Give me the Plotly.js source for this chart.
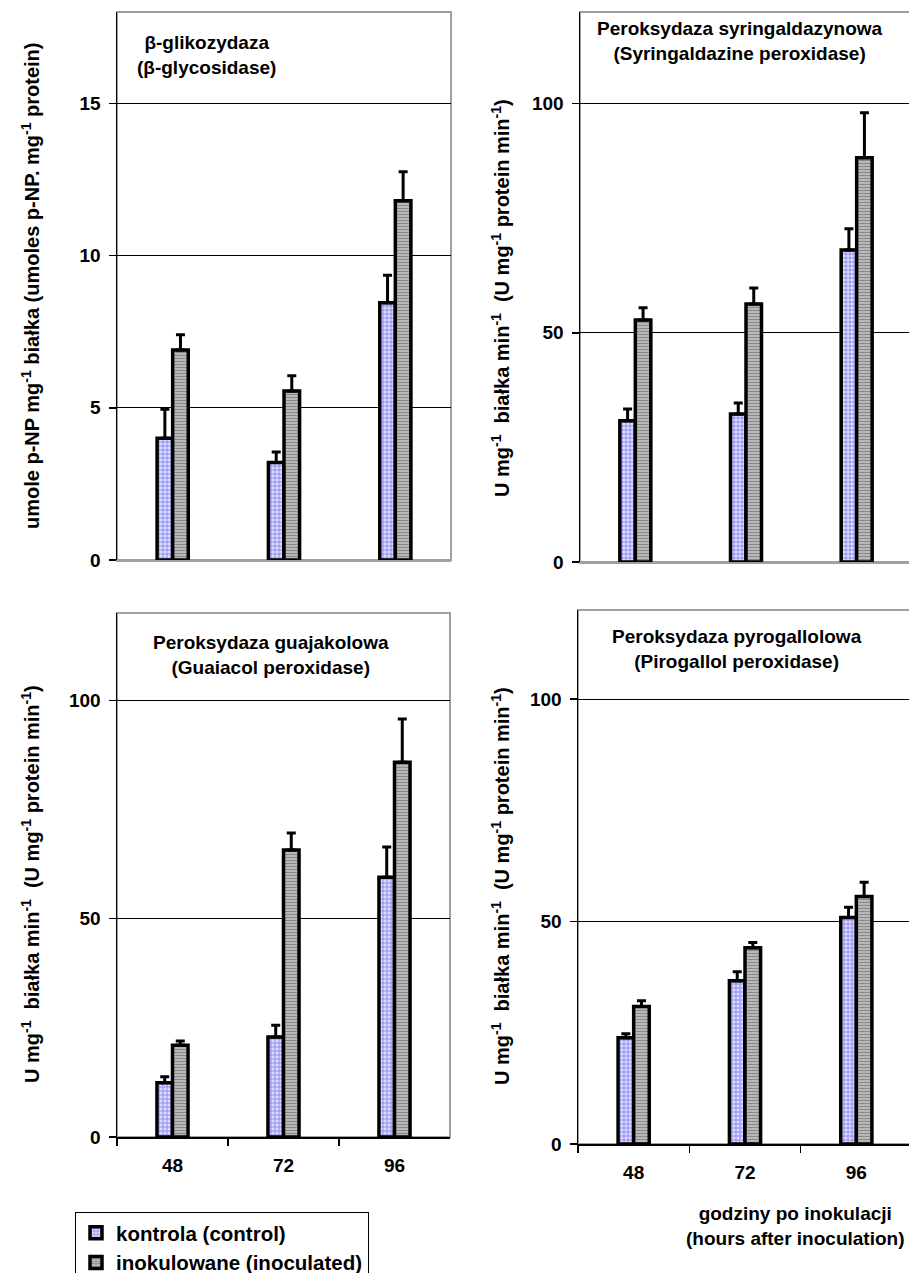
<!DOCTYPE html>
<html>
<head>
<meta charset="utf-8">
<script src="https://cdn.plot.ly/plotly-3.0.1.min.js"></script>
<style>
html,body{margin:0;padding:0;overflow:hidden;background:#fff;}
#chart{width:912px;height:1273px;}
</style>
</head>
<body>
<div id="chart"></div>
<script>
// ---- data ----
const hours = ['48', '72', '96'];
const seriesNames = ['kontrola (control)', 'inokulowane (inoculated)'];
const glyTicks = [0, 5, 10, 15];
const enzTicks = [0, 50, 100];

// β-glikozydaza (β-glycosidase)
const glyControl = [4.0, 3.2, 8.45];
const glyControlErr = [0.95, 0.35, 0.9];
const glyInoc = [6.9, 5.55, 11.8];
const glyInocErr = [0.5, 0.5, 0.95];

// Peroksydaza syringaldazynowa (Syringaldazine peroxidase)
const syrControl = [30.8, 32.3, 68.1];
const syrControlErr = [2.6, 2.4, 4.6];
const syrInoc = [52.8, 56.3, 88.2];
const syrInocErr = [2.7, 3.5, 9.8];

// Peroksydaza guajakolowa (Guaiacol peroxidase)
const guaControl = [12.4, 22.9, 59.5];
const guaControlErr = [1.4, 2.7, 6.9];
const guaInoc = [21.0, 65.7, 85.8];
const guaInocErr = [1.0, 3.9, 9.9];

// Peroksydaza pyrogallolowa (Pirogallol peroxidase)
const pyrControl = [23.9, 36.7, 50.9];
const pyrControlErr = [0.9, 2.0, 2.3];
const pyrInoc = [30.9, 44.1, 55.6];
const pyrInocErr = [1.3, 1.2, 3.2];

const panelTitles = [
  'β-glikozydaza<br>(β-glycosidase)',
  'Peroksydaza syringaldazynowa<br>(Syringaldazine peroxidase)',
  'Peroksydaza guajakolowa<br>(Guaiacol peroxidase)',
  'Peroksydaza pyrogallolowa<br>(Pirogallol peroxidase)'
];
const yTitles = [
  'umole p-NP mg<sup>-1</sup> białka (umoles p-NP. mg<sup>-1</sup> protein)',
  'U mg<sup>-1</sup>  białka min<sup>-1</sup>  (U mg<sup>-1</sup> protein min<sup>-1</sup>)',
  'U mg<sup>-1</sup>  białka min<sup>-1</sup>  (U mg<sup>-1</sup> protein min<sup>-1</sup>)',
  'U mg<sup>-1</sup>  białka min<sup>-1</sup>  (U mg<sup>-1</sup> protein min<sup>-1</sup>)'
];
const xTitle = 'godziny po inokulacji<br>(hours after inoculation)';

// ---- styling ----
const FONT = 'Liberation Sans, Arial, sans-serif';
const W = 912, H = 1273;
const px = v => v / W;
const py = v => 1 - v / H;
const bold = a => a.map(v => '<b>' + v + '</b>');

const controlMarker = {
  color: '#c4c4fa',
  line: {color: '#000', width: 3.5},
  pattern: {shape: '+', fgcolor: '#8282ee', bgcolor: '#dcdcff', size: 4, solidity: 0.4}
};
const inocMarker = {
  color: '#b0b0b0',
  line: {color: '#000', width: 3.5},
  pattern: {shape: '-', fgcolor: '#8a8a8a', bgcolor: '#c2c2c2', size: 3, solidity: 0.45}
};

function errs(arr) {
  return {type: 'data', symmetric: false, array: arr, arrayminus: arr.map(() => 0),
          color: '#000', thickness: 3, width: 4.5};
}

const panels = [
  {c: glyControl, ce: glyControlErr, i: glyInoc, ie: glyInocErr},
  {c: syrControl, ce: syrControlErr, i: syrInoc, ie: syrInocErr},
  {c: guaControl, ce: guaControlErr, i: guaInoc, ie: guaInocErr},
  {c: pyrControl, ce: pyrControlErr, i: pyrInoc, ie: pyrInocErr}
];

const traces = [];
panels.forEach((p, k) => {
  const xa = k === 0 ? 'x' : 'x' + (k + 1);
  const ya = k === 0 ? 'y' : 'y' + (k + 1);
  traces.push({type: 'bar', name: seriesNames[0], x: hours, y: p.c, xaxis: xa, yaxis: ya,
    marker: controlMarker, error_y: errs(p.ce), showlegend: k === 2, legendgroup: 'c'});
  traces.push({type: 'bar', name: seriesNames[1], x: hours, y: p.i, xaxis: xa, yaxis: ya,
    marker: inocMarker, error_y: errs(p.ie), showlegend: k === 2, legendgroup: 'i'});
});

const tickFont = {family: FONT, size: 19, color: '#000', weight: 'bold'};

function xAxis(domain, showLabels, anchor) {
  return {
    domain: domain, type: 'category', range: [-0.5, 2.5], fixedrange: true, anchor: anchor,
    showgrid: false, zeroline: false,
    showline: true, linecolor: showLabels ? '#000' : '#a0a0a0', linewidth: showLabels ? 1.5 : 2,
    showticklabels: showLabels, ticks: showLabels ? 'outside' : '', tickson: 'boundaries',
    tickmode: 'array', tickvals: hours, ticktext: bold(hours),
    ticklen: 7, tickwidth: 1.5, tickcolor: '#000', tickfont: tickFont, ticklabelstandoff: 11
  };
}
function yAxis(domain, max, ticks, anchor) {
  return {
    domain: domain, range: [0, max], fixedrange: true, anchor: anchor,
    tickmode: 'array', tickvals: ticks, ticktext: bold(ticks),
    showgrid: true, gridcolor: '#000', gridwidth: 1, zeroline: false,
    showline: true, linecolor: '#000', linewidth: 1.5,
    ticks: 'outside', ticklen: 7, tickwidth: 1.5, tickcolor: '#000',
    tickfont: tickFont, ticklabelstandoff: 4
  };
}

const dom = {
  x1: [px(117), px(451)], y1: [py(560), py(12)],
  x2: [px(580), 1], y2: [py(562), py(12)],
  x3: [px(117), px(450)], y3: [py(1137), py(613)],
  x4: [px(578), 1], y4: [py(1144), py(610)]
};

const shapes = [['x', 'y'], ['x2', 'y2'], ['x3', 'y3'], ['x4', 'y4']].map(([xr, yr]) => ({
  type: 'rect', xref: xr + ' domain', yref: yr + ' domain', x0: 0, x1: 1, y0: 0, y1: 1,
  line: {color: '#a0a0a0', width: 2}, layer: 'below'
}));

const titleFont = {family: FONT, size: 19, color: '#000', weight: 'bold'};
const yTitleFont = {family: FONT, size: 20, color: '#000', weight: 'bold'};
const annotations = [
  {text: panelTitles[0], x: px(206), y: py(55)},
  {text: panelTitles[1], x: px(740), y: py(41)},
  {text: panelTitles[2], x: px(271), y: py(655)},
  {text: panelTitles[3], x: px(737), y: py(649)},
  {text: yTitles[0], x: px(30), y: py(286), textangle: -90, font: yTitleFont},
  {text: yTitles[1], x: px(500), y: py(298), textangle: -90, font: yTitleFont},
  {text: yTitles[2], x: px(30), y: py(884), textangle: -90, font: yTitleFont},
  {text: yTitles[3], x: px(500), y: py(886), textangle: -90, font: yTitleFont},
  {text: xTitle, x: px(795), y: py(1226)}
].map(a => Object.assign({xref: 'paper', yref: 'paper', showarrow: false, xanchor: 'center',
  yanchor: 'middle', align: 'center', font: titleFont}, a));

const layout = {
  width: W, height: H,
  margin: {l: 0, r: 0, t: 0, b: 0, autoexpand: false},
  paper_bgcolor: '#fff', plot_bgcolor: '#fff',
  barmode: 'group', bargap: 0.72, bargroupgap: 0,
  font: {family: FONT, color: '#000'},
  xaxis: xAxis(dom.x1, false, 'y'), yaxis: yAxis(dom.y1, 18, glyTicks, 'x'),
  xaxis2: xAxis(dom.x2, false, 'y2'), yaxis2: yAxis(dom.y2, 120, enzTicks, 'x2'),
  xaxis3: xAxis(dom.x3, true, 'y3'), yaxis3: yAxis(dom.y3, 120, enzTicks, 'x3'),
  xaxis4: xAxis(dom.x4, true, 'y4'), yaxis4: yAxis(dom.y4, 120, enzTicks, 'x4'),
  shapes: shapes,
  annotations: annotations,
  showlegend: true,
  legend: {
    x: px(75), y: py(1212), xanchor: 'left', yanchor: 'top', orientation: 'v',
    bgcolor: '#fff', bordercolor: '#000', borderwidth: 1,
    font: {family: FONT, size: 20.5, color: '#000', weight: 'bold'},
    traceorder: 'normal', tracegroupgap: 0
  }
};

Plotly.newPlot('chart', traces, layout, {staticPlot: true, displayModeBar: false});
</script>
</body>
</html>
